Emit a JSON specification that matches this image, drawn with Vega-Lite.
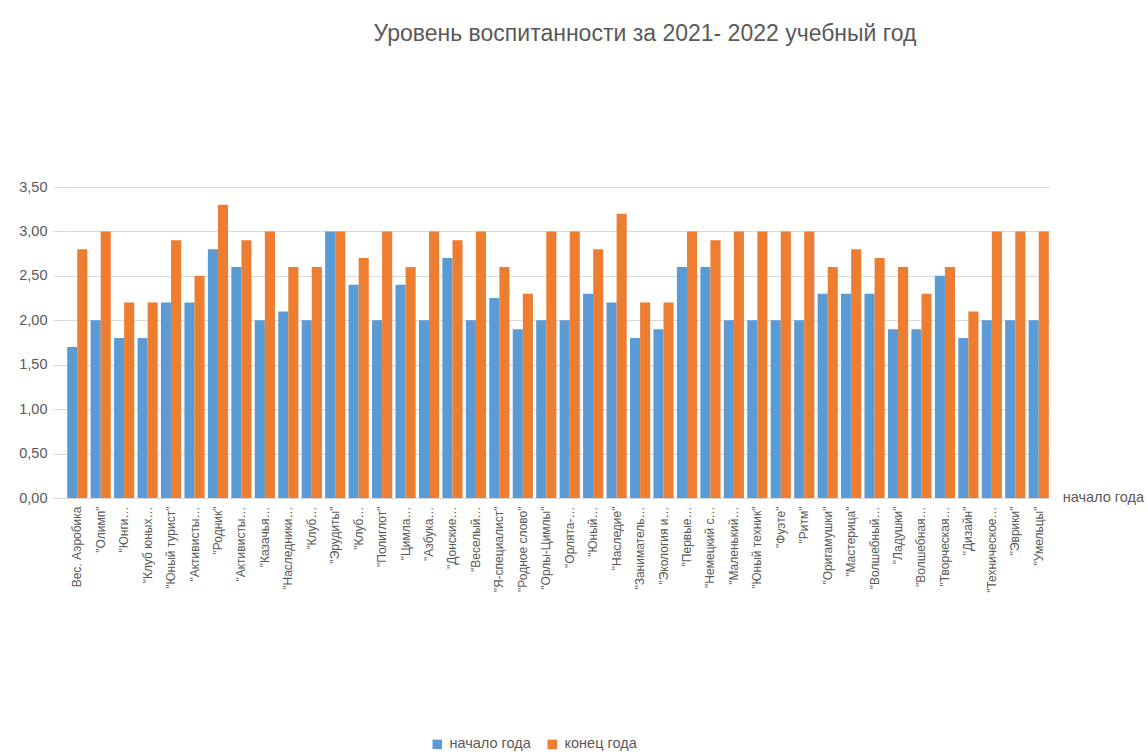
{
  "$schema": "https://vega.github.io/schema/vega-lite/v6.json",
  "autosize": "none",
  "width": 984,
  "height": 311,
  "padding": {"left": 66, "top": 187, "right": 98, "bottom": 258},
  "background": "white",
  "config": {
    "font": "Liberation Sans",
    "view": {"stroke": null}
  },
  "title": {
    "text": "Уровень воспитанности за 2021- 2022 учебный год",
    "fontSize": 23,
    "fontWeight": "normal",
    "color": "#595959",
    "anchor": "middle",
    "dx": 87,
    "offset": 133
  },
  "data": {
    "values": [
      {"k": "Вес. Аэробика", "s": "начало года", "v": 1.7}, {"k": "Вес. Аэробика", "s": "конец года", "v": 2.8},
      {"k": "\"Олимп\"", "s": "начало года", "v": 2.0}, {"k": "\"Олимп\"", "s": "конец года", "v": 3.0},
      {"k": "\"Юнги…", "s": "начало года", "v": 1.8}, {"k": "\"Юнги…", "s": "конец года", "v": 2.2},
      {"k": "\"Клуб юных…", "s": "начало года", "v": 1.8}, {"k": "\"Клуб юных…", "s": "конец года", "v": 2.2},
      {"k": "\"Юный турист\"", "s": "начало года", "v": 2.2}, {"k": "\"Юный турист\"", "s": "конец года", "v": 2.9},
      {"k": "\"Активисты…", "s": "начало года", "v": 2.2}, {"k": "\"Активисты…", "s": "конец года", "v": 2.5},
      {"k": "\"Родник\"", "s": "начало года", "v": 2.8}, {"k": "\"Родник\"", "s": "конец года", "v": 3.3},
      {"k": "\"Активисты…\u200b", "s": "начало года", "v": 2.6}, {"k": "\"Активисты…\u200b", "s": "конец года", "v": 2.9},
      {"k": "\"Казачья…", "s": "начало года", "v": 2.0}, {"k": "\"Казачья…", "s": "конец года", "v": 3.0},
      {"k": "\"Наследники…", "s": "начало года", "v": 2.1}, {"k": "\"Наследники…", "s": "конец года", "v": 2.6},
      {"k": "\"Клуб…", "s": "начало года", "v": 2.0}, {"k": "\"Клуб…", "s": "конец года", "v": 2.6},
      {"k": "\"Эрудиты\"", "s": "начало года", "v": 3.0}, {"k": "\"Эрудиты\"", "s": "конец года", "v": 3.0},
      {"k": "\"Клуб…\u200b", "s": "начало года", "v": 2.4}, {"k": "\"Клуб…\u200b", "s": "конец года", "v": 2.7},
      {"k": "\"Полиглот\"", "s": "начало года", "v": 2.0}, {"k": "\"Полиглот\"", "s": "конец года", "v": 3.0},
      {"k": "\"Цимла…", "s": "начало года", "v": 2.4}, {"k": "\"Цимла…", "s": "конец года", "v": 2.6},
      {"k": "\"Азбука…", "s": "начало года", "v": 2.0}, {"k": "\"Азбука…", "s": "конец года", "v": 3.0},
      {"k": "\"Донские…", "s": "начало года", "v": 2.7}, {"k": "\"Донские…", "s": "конец года", "v": 2.9},
      {"k": "\"Веселый…", "s": "начало года", "v": 2.0}, {"k": "\"Веселый…", "s": "конец года", "v": 3.0},
      {"k": "\"Я-специалист\"", "s": "начало года", "v": 2.25}, {"k": "\"Я-специалист\"", "s": "конец года", "v": 2.6},
      {"k": "\"Родное слово\"", "s": "начало года", "v": 1.9}, {"k": "\"Родное слово\"", "s": "конец года", "v": 2.3},
      {"k": "\"Орлы-Цимлы\"", "s": "начало года", "v": 2.0}, {"k": "\"Орлы-Цимлы\"", "s": "конец года", "v": 3.0},
      {"k": "\"Орлята-…", "s": "начало года", "v": 2.0}, {"k": "\"Орлята-…", "s": "конец года", "v": 3.0},
      {"k": "\"Юный…", "s": "начало года", "v": 2.3}, {"k": "\"Юный…", "s": "конец года", "v": 2.8},
      {"k": "\"Наследие\"", "s": "начало года", "v": 2.2}, {"k": "\"Наследие\"", "s": "конец года", "v": 3.2},
      {"k": "\"Заниматель…", "s": "начало года", "v": 1.8}, {"k": "\"Заниматель…", "s": "конец года", "v": 2.2},
      {"k": "\"Экология и…", "s": "начало года", "v": 1.9}, {"k": "\"Экология и…", "s": "конец года", "v": 2.2},
      {"k": "\"Первые…", "s": "начало года", "v": 2.6}, {"k": "\"Первые…", "s": "конец года", "v": 3.0},
      {"k": "\"Немецкий с…", "s": "начало года", "v": 2.6}, {"k": "\"Немецкий с…", "s": "конец года", "v": 2.9},
      {"k": "\"Маленький…", "s": "начало года", "v": 2.0}, {"k": "\"Маленький…", "s": "конец года", "v": 3.0},
      {"k": "\"Юный техник\"", "s": "начало года", "v": 2.0}, {"k": "\"Юный техник\"", "s": "конец года", "v": 3.0},
      {"k": "\"Фуэте\"", "s": "начало года", "v": 2.0}, {"k": "\"Фуэте\"", "s": "конец года", "v": 3.0},
      {"k": "\"Ритм\"", "s": "начало года", "v": 2.0}, {"k": "\"Ритм\"", "s": "конец года", "v": 3.0},
      {"k": "\"Оригамушки\"", "s": "начало года", "v": 2.3}, {"k": "\"Оригамушки\"", "s": "конец года", "v": 2.6},
      {"k": "\"Мастерица\"", "s": "начало года", "v": 2.3}, {"k": "\"Мастерица\"", "s": "конец года", "v": 2.8},
      {"k": "\"Волшебный…", "s": "начало года", "v": 2.3}, {"k": "\"Волшебный…", "s": "конец года", "v": 2.7},
      {"k": "\"Ладушки\"", "s": "начало года", "v": 1.9}, {"k": "\"Ладушки\"", "s": "конец года", "v": 2.6},
      {"k": "\"Волшебная…", "s": "начало года", "v": 1.9}, {"k": "\"Волшебная…", "s": "конец года", "v": 2.3},
      {"k": "\"Творческая…", "s": "начало года", "v": 2.5}, {"k": "\"Творческая…", "s": "конец года", "v": 2.6},
      {"k": "\"Дизайн\"", "s": "начало года", "v": 1.8}, {"k": "\"Дизайн\"", "s": "конец года", "v": 2.1},
      {"k": "\"Техническое…", "s": "начало года", "v": 2.0}, {"k": "\"Техническое…", "s": "конец года", "v": 3.0},
      {"k": "\"Эврики\"", "s": "начало года", "v": 2.0}, {"k": "\"Эврики\"", "s": "конец года", "v": 3.0},
      {"k": "\"Умельцы\"", "s": "начало года", "v": 2.0}, {"k": "\"Умельцы\"", "s": "конец года", "v": 3.0}
    ]
  },
  "layer": [
    {
      "mark": {"type": "bar", "stroke": null},
      "encoding": {
        "x": {
          "field": "k",
          "type": "nominal",
          "sort": null,
          "scale": {"paddingInner": 0.14, "paddingOuter": 0.05},
          "axis": {
            "title": null,
            "labelAngle": -90,
            "labelAlign": "right",
            "labelBaseline": "middle",
            "labelFontSize": 12,
            "labelColor": "#595959",
            "labelPadding": 8,
            "labelLimit": 200,
            "ticks": false,
            "domain": false
          }
        },
        "xOffset": {
          "field": "s",
          "type": "nominal",
          "sort": ["начало года", "конец года"],
          "scale": {"paddingInner": 0}
        },
        "y": {
          "field": "v",
          "type": "quantitative",
          "scale": {"domain": [0, 3.5], "nice": false},
          "axis": {
            "title": null,
            "values": [0, 0.5, 1, 1.5, 2, 2.5, 3, 3.5],
            "labelExpr": "replace(format(datum.value, '.2f'), '.', ',')",
            "labelFontSize": 14.5,
            "labelColor": "#595959",
            "labelPadding": 6,
            "tickSize": 13,
            "tickColor": "#D9D9D9",
            "domain": false,
            "gridColor": "#D9D9D9"
          }
        },
        "color": {
          "field": "s",
          "type": "nominal",
          "sort": ["начало года", "конец года"],
          "scale": {"domain": ["начало года", "конец года"], "range": ["#5B9BD5", "#ED7D31"]},
          "legend": {
            "title": null,
            "orient": "none",
            "direction": "horizontal",
            "legendX": 364,
            "legendY": 550,
            "symbolType": "square",
            "symbolSize": 90,
            "symbolStrokeWidth": 0,
            "labelFontSize": 14.5,
            "labelColor": "#595959",
            "labelOffset": 5,
            "columnPadding": 14
          }
        }
      }
    },
    {
      "data": {"values": [{"t": "начало года"}]},
      "mark": {"type": "text", "align": "left", "baseline": "middle", "dx": 24, "fontSize": 14.5, "color": "#595959"},
      "encoding": {
        "x": {"datum": "\"Умельцы\"", "type": "nominal"},
        "y": {"datum": 0, "type": "quantitative"},
        "text": {"field": "t"}
      }
    }
  ]
}
